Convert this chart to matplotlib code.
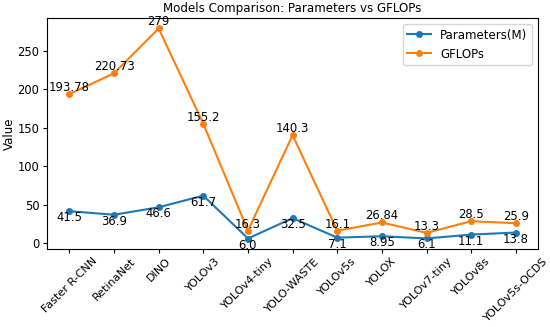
import matplotlib
matplotlib.use("Agg")
import matplotlib.pyplot as plt

models = ['Faster R-CNN', 'RetinaNet', 'DINO', 'YOLOv3', 'YOLOv4-tiny', 'YOLO-WASTE',
          'YOLOv5s', 'YOLOX', 'YOLOv7-tiny', 'YOLOv8s', 'YOLOv5s-OCDS']
params = [41.5, 36.9, 46.6, 61.7, 6.0, 32.5, 7.1, 8.95, 6.1, 11.1, 13.8]
gflops = [193.78, 220.73, 279, 155.2, 16.3, 140.3, 16.1, 26.84, 13.3, 28.5, 25.9]
params_txt = ['41.5', '36.9', '46.6', '61.7', '6.0', '32.5', '7.1', '8.95', '6.1', '11.1', '13.8']
gflops_txt = ['193.78', '220.73', '279', '155.2', '16.3', '140.3', '16.1', '26.84', '13.3', '28.5', '25.9']

fig = plt.figure(figsize=(5.5, 3.27), dpi=100)
ax = fig.add_axes([0.0855, 0.2385, 0.893, 0.7065])

x = range(len(models))
ax.plot(x, params, marker='o', markersize=4, label='Parameters(M)')
ax.plot(x, gflops, marker='o', markersize=4, label='GFLOPs')

# waarden bij de punten zetten
for i in x:
    ax.text(i, params[i], params_txt[i], ha='center', va='top', fontsize=8.4)
    ax.text(i, gflops[i], gflops_txt[i], ha='center', va='bottom', fontsize=8.4)

ax.set_xticks(list(x))
ax.set_xticklabels(models, rotation=45, fontsize=8)
ax.tick_params(axis='both', labelsize=8.3, length=3, pad=2.5)
ax.tick_params(axis='x', labelsize=8, pad=2)
ax.set_ylabel('Value', fontsize=8.5, labelpad=1)
ax.set_title('Models Comparison: Parameters vs GFLOPs', fontsize=8.6, pad=4)
ax.legend(fontsize=8.5)

fig.savefig('out.png', dpi=100)
